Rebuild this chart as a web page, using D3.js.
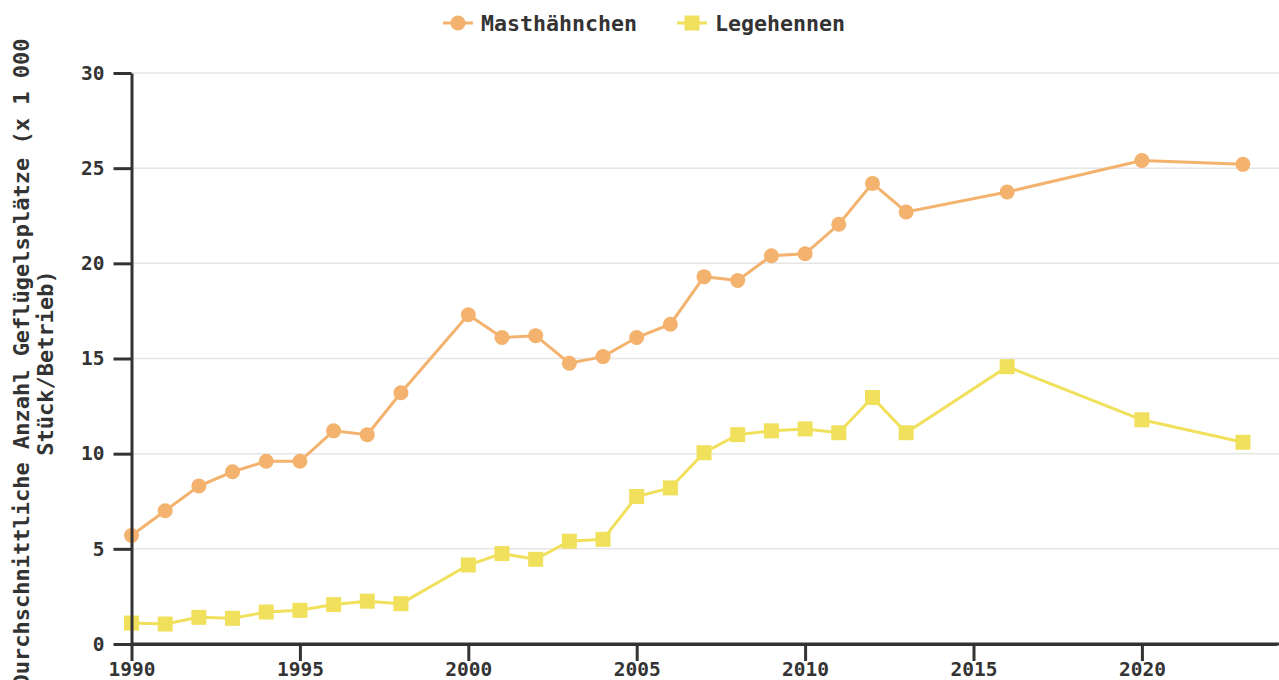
<!DOCTYPE html>
<html>
<head>
<meta charset="utf-8">
<script src="https://cdn.jsdelivr.net/npm/d3@7"></script>
<style>
  html, body { margin: 0; padding: 0; background: #fff; }
  svg { display: block; }
  text { font-family: "DejaVu Sans Mono", monospace; font-weight: bold; fill: #333; }
</style>
</head>
<body>
<svg id="chart" width="1279" height="680"></svg>
<script>
// ---- data ----
const years = [1990, 1991, 1992, 1993, 1994, 1995, 1996, 1997, 1998, 2000, 2001, 2002, 2003, 2004, 2005, 2006, 2007, 2008, 2009, 2010, 2011, 2012, 2013, 2016, 2020, 2023];
const masthaehnchen = [5.7, 7.0, 8.3, 9.05, 9.6, 9.6, 11.2, 11.0, 13.2, 17.3, 16.1, 16.2, 14.75, 15.1, 16.1, 16.8, 19.3, 19.1, 20.4, 20.5, 22.05, 24.2, 22.7, 23.75, 25.4, 25.2];
const legehennen = [1.1, 1.05, 1.4, 1.35, 1.68, 1.77, 2.07, 2.25, 2.12, 4.15, 4.75, 4.45, 5.4, 5.5, 7.75, 8.2, 10.05, 11.0, 11.2, 11.3, 11.1, 12.95, 11.1, 14.57, 11.78, 10.6];
const seriesNames = ["Masthähnchen", "Legehennen"];
const yTicks = [0, 5, 10, 15, 20, 25, 30];
const xTicks = [1990, 1995, 2000, 2005, 2010, 2015, 2020];
const yTitleLines = ["Durchschnittliche Anzahl Geflügelsplätze (x 1 000", "Stück/Betrieb)"];

// ---- layout ----
const W = 1279, H = 680;
const mLeft = 131.5, mTop = 73, mBottom = 644;
const pxPerYear = 33.68;
const xScale = d3.scaleLinear().domain([1990, 2024]).range([mLeft, mLeft + 34 * pxPerYear]);
const yScale = d3.scaleLinear().domain([0, 30]).range([mBottom, mTop]);
const colors = ["#f3b26d", "#f1e05c"];
const axisColor = "#333";

const svg = d3.select("#chart");

// gridlines
svg.append("g").selectAll("line").data(yTicks.filter(d => d > 0)).join("line")
  .attr("x1", mLeft).attr("x2", W)
  .attr("y1", d => yScale(d)).attr("y2", d => yScale(d))
  .attr("stroke", "#e6e6e6").attr("stroke-width", 1.5);

// series
const seriesData = [masthaehnchen, legehennen].map((vals, i) => ({
  name: seriesNames[i], color: colors[i], shape: i === 0 ? "circle" : "square",
  points: years.map((y, j) => ({ x: y, y: vals[j] }))
}));

const line = d3.line().x(d => xScale(d.x)).y(d => yScale(d.y));

[1, 0].forEach(i => {
  const s = seriesData[i];
  const g = svg.append("g");
  g.append("path").datum(s.points).attr("d", line)
    .attr("fill", "none").attr("stroke", s.color).attr("stroke-width", 3);
  if (s.shape === "circle") {
    g.selectAll("circle").data(s.points).join("circle")
      .attr("cx", d => xScale(d.x)).attr("cy", d => yScale(d.y)).attr("r", 7.5)
      .attr("fill", s.color);
  } else {
    g.selectAll("rect").data(s.points).join("rect")
      .attr("x", d => xScale(d.x) - 7.5).attr("y", d => yScale(d.y) - 7.5)
      .attr("width", 15).attr("height", 15).attr("fill", s.color);
  }
});

// y axis
const yAxis = svg.append("g").attr("transform", `translate(${mLeft},0)`)
  .call(d3.axisLeft(yScale).tickValues(yTicks).tickSize(18).tickSizeOuter(0).tickPadding(9));
// x axis
const xAxis = svg.append("g").attr("transform", `translate(0,${mBottom})`)
  .call(d3.axisBottom(xScale).tickValues(xTicks).tickFormat(d3.format("d")).tickSize(17).tickSizeOuter(0).tickPadding(1));

[yAxis, xAxis].forEach(a => {
  a.selectAll("path.domain").attr("stroke", axisColor).attr("stroke-width", 3);
  a.selectAll(".tick line").attr("stroke", axisColor).attr("stroke-width", 3);
  a.selectAll(".tick text").attr("fill", axisColor)
    .style("font-family", '"DejaVu Sans Mono", monospace').style("font-weight", "bold").style("font-size", "19.5px");
});
svg.append("line").attr("x1", mLeft).attr("x2", W).attr("y1", mBottom).attr("y2", mBottom)
  .attr("stroke", axisColor).attr("stroke-width", 3);

// y axis title
const yt = svg.append("text")
  .attr("transform", "translate(29,363) rotate(-90)")
  .attr("text-anchor", "middle")
  .style("font-size", "22px");
yTitleLines.forEach((t, i) => {
  yt.append("tspan").attr("x", 0).attr("dy", i === 0 ? 0 : 24).text(t);
});

// legend
const legendItems = [
  { name: seriesNames[0], color: colors[0], shape: "circle", x: 443 },
  { name: seriesNames[1], color: colors[1], shape: "square", x: 677 }
];
const lg = svg.append("g");
legendItems.forEach(it => {
  const g = lg.append("g").attr("transform", `translate(${it.x},23)`);
  g.append("line").attr("x1", 0).attr("x2", 30).attr("y1", 0).attr("y2", 0)
    .attr("stroke", it.color).attr("stroke-width", 3);
  if (it.shape === "circle") {
    g.append("circle").attr("cx", 15).attr("cy", 0).attr("r", 7.5).attr("fill", it.color);
  } else {
    g.append("rect").attr("x", 7.5).attr("y", -7.5).attr("width", 15).attr("height", 15).attr("fill", it.color);
  }
  g.append("text").attr("x", 38).attr("y", 8).style("font-size", "21.6px").text(it.name);
});
</script>
</body>
</html>
